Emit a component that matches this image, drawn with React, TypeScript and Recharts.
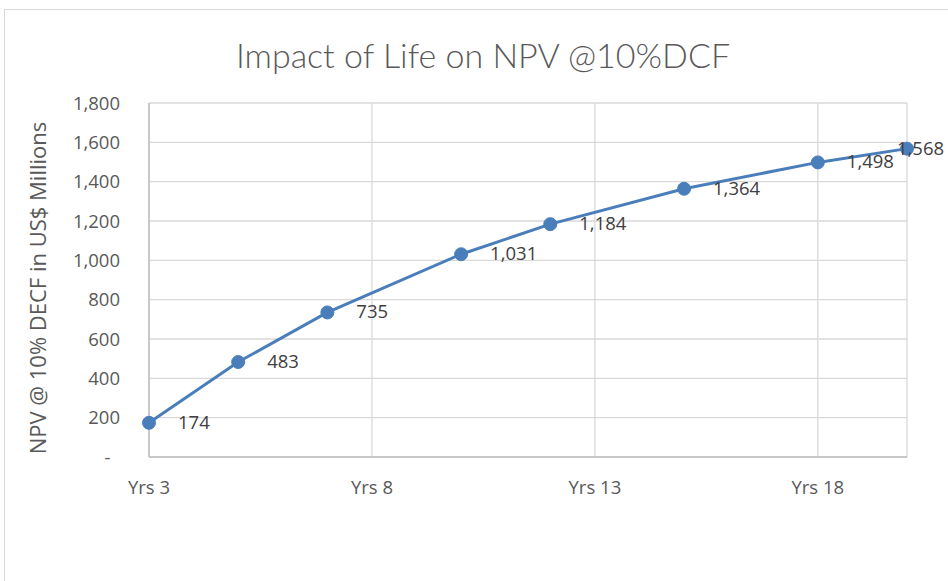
import React from 'react'
import {
  LineChart, Line, XAxis, YAxis, CartesianGrid, LabelList, Label
} from 'recharts'

// life of mine (years) vs NPV @ 10% DCF
const years = [3, 5, 7, 10, 12, 15, 18, 20]
const npv = [174, 483, 735, 1031, 1184, 1364, 1498, 1568]
const xTicks = [3, 8, 13, 18]
const yTicks = [0, 200, 400, 600, 800, 1000, 1200, 1400, 1600, 1800]

const data = years.map((y, i) => ({ year: y, npv: npv[i] }))

const FONT = '"Open Sans", Lato, sans-serif'
const TITLE_FONT = 'Lato, "Open Sans", sans-serif'
const TEXT = '#595959'
const BLUE = '#4a7ebb'

const fmt = (v: number) => (v === 0 ? '-\u00a0\u00a0' : v.toLocaleString('en-US'))

function PointLabel(props: any) {
  const { x, y, value, index } = props
  // last label gets pushed left by the chart edge, like in the original
  const dx = index === npv.length - 1 ? -10 : 29
  return (
    <text x={x + dx} y={y + 1} dominantBaseline="middle" textAnchor="start"
      fontFamily={FONT} fontSize={18.5} fill="#404040">
      {fmt(value)}
    </text>
  )
}

export default function App() {
  return (
    <div style={{ position: 'absolute', left: 0, top: 0, width: 948, height: 581, overflow: 'hidden', background: '#fff' }}>
      <div style={{
        position: 'absolute', left: 4, top: 9, width: 960, height: 600,
        border: '1px solid #d9d9d9', boxSizing: 'border-box'
      }} />
      <div style={{
        position: 'absolute', left: 0, width: 966, top: 33, textAlign: 'center',
        fontFamily: TITLE_FONT, fontWeight: 300, fontSize: 34, color: TEXT, lineHeight: '44px'
      }}>
        Impact of Life on NPV @10%DCF
      </div>
      <div style={{ position: 'absolute', left: 0, top: 0 }}>
        <LineChart width={948} height={581} data={data}
          margin={{ top: 103, right: 41, bottom: 0, left: 0 }}>
          <CartesianGrid stroke="#d9d9d9" strokeWidth={1.3} />
          <XAxis dataKey="year" type="number" domain={[3, 20]} ticks={xTicks}
            height={124} tickLine={false} tickSize={0} tickMargin={24}
            axisLine={{ stroke: '#bfbfbf', strokeWidth: 1.5 }}
            tickFormatter={(v: number) => `Yrs ${v}`}
            tick={{ fontFamily: FONT, fontSize: 18.5, fill: TEXT }} />
          <YAxis type="number" domain={[0, 1800]} ticks={yTicks} width={149}
            tickLine={false} tickSize={0} tickMargin={29}
            axisLine={{ stroke: '#bfbfbf', strokeWidth: 1.5 }}
            tickFormatter={fmt}
            tick={{ fontFamily: FONT, fontSize: 18.5, fill: TEXT }}>
            <Label content={(p: any) => {
              const vb = p.viewBox
              const cx = vb.x + 40
              const cy = vb.y + vb.height / 2 + 8
              return (
                <text x={cx} y={cy} transform={`rotate(-90 ${cx} ${cy})`}
                  textAnchor="middle" dominantBaseline="middle"
                  fontFamily={FONT} fontSize={22} fill={TEXT}>
                  NPV @ 10% DECF in US$ Millions
                </text>
              )
            }} />
          </YAxis>
          <Line dataKey="npv" stroke={BLUE} strokeWidth={3}
            dot={{ r: 6.5, fill: BLUE, stroke: BLUE, strokeWidth: 1 }}
            activeDot={false} isAnimationActive={false}>
            <LabelList dataKey="npv" content={PointLabel} />
          </Line>
        </LineChart>
      </div>
    </div>
  )
}
